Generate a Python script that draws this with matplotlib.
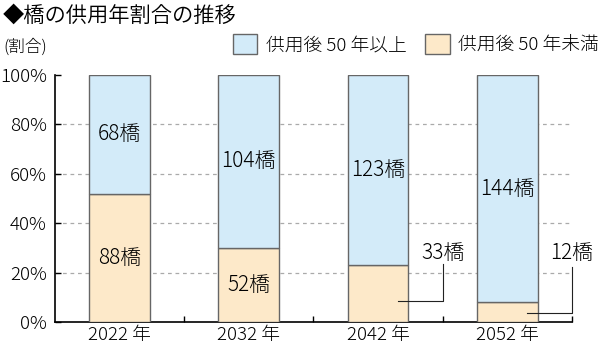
import matplotlib
matplotlib.use("Agg")
import matplotlib.pyplot as plt
from matplotlib.patches import Patch

plt.rcParams["font.family"] = ["Noto Sans CJK JP", "DejaVu Sans"]
plt.rcParams["font.weight"] = "light"

years = ["2022 年", "2032 年", "2042 年", "2052 年"]
# share (%) of bridges under 50 years, as drawn
share_under = [52, 30, 23, 8]
count_over = [68, 104, 123, 144]
count_under = [88, 52, 33, 12]

BLUE, ORANGE, EDGE = "#d3ebf9", "#fde9c9", "#666666"

fig = plt.figure(figsize=(6.0, 3.48), dpi=100)
ax = fig.add_axes([0.0917, 0.0747, 0.8613, 0.7098])

x = list(range(len(years)))
share_over = [100 - s for s in share_under]
ax.bar(x, share_under, width=0.47, color=ORANGE, edgecolor=EDGE, lw=1, zorder=3)
ax.bar(x, share_over, bottom=share_under, width=0.47, color=BLUE, edgecolor=EDGE,
       lw=1, zorder=3)

for g in (20, 40, 60, 80):
    ax.axhline(g, color="#aaaaaa", ls=(0, (3, 3)), lw=0.9, zorder=1)

# labels inside the bars
for i in range(len(years)):
    top_mid = share_under[i] + share_over[i] / 2
    ax.text(i, top_mid, f"{count_over[i]}橋", ha="center", va="center",
            fontsize=15, zorder=5)
    if i < 2:
        ax.text(i, share_under[i] / 2, f"{count_under[i]}橋", ha="center",
                va="center", fontsize=15, zorder=5)

# callouts for the thin segments
callouts = [(2, 8.5, 23.5), (3, 3.6, 22.3)]
for i, y0, y1 in callouts:
    ax.plot([i + 0.155, i + 0.5, i + 0.5], [y0, y0, y1], color="#222222", lw=0.8,
            zorder=5, clip_on=False)
    ax.text(i + 0.5, 28, f"{count_under[i]}橋", ha="center", va="center",
            fontsize=15, zorder=5)

ax.set_xlim(-0.5, 3.5)
ax.set_ylim(0, 100)
ax.set_yticks(range(0, 101, 20))
ax.set_yticklabels([f"{v}%" for v in range(0, 101, 20)], fontsize=13.5)
ax.tick_params(axis="y", direction="in", length=4, width=1, pad=6)
ax.set_xticks([0.5, 1.5, 2.5, 3.5])
ax.set_xticklabels([])
ax.tick_params(axis="x", which="major", direction="in", length=4, width=1)
ax.set_xticks(x, minor=True)
ax.set_xticklabels(years, minor=True, fontsize=13.5)
ax.tick_params(axis="x", which="minor", length=0, pad=3)
for s in ("top", "right"):
    ax.spines[s].set_visible(False)
for s in ("left", "bottom"):
    ax.spines[s].set_linewidth(1.2)

fig.text(0.005, 1 - 16 / 348, "◆橋の供用年割合の推移", fontsize=15.3,
         fontweight=350, va="center", ha="left")
fig.text(0.005, 1 - 47 / 348, "(割合)", fontsize=12, va="center", ha="left")

handles = [Patch(facecolor=BLUE, edgecolor=EDGE, lw=1),
           Patch(facecolor=ORANGE, edgecolor=EDGE, lw=1)]
fig.legend(handles, ["供用後 50 年以上", "供用後 50 年未満"], ncol=2,
           loc="center right", bbox_to_anchor=(0.998, 1 - 44 / 348),
           frameon=False, fontsize=13.5, handlelength=1.3, handleheight=1.25,
           handletextpad=0.45, columnspacing=1.0, borderaxespad=0, borderpad=0)

fig.savefig("out.png", dpi=100)
